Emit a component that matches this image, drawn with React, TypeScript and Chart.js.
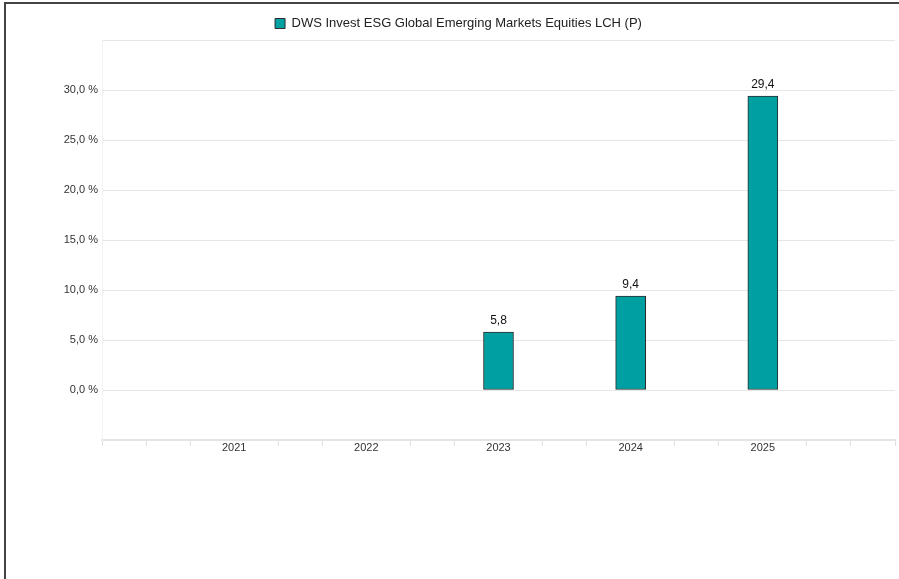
import React, { useEffect, useRef } from "react";
import { Chart, registerables } from "chart.js";

Chart.register(...registerables);

const seriesName = "DWS Invest ESG Global Emerging Markets Equities LCH (P)";
const years = [2021, 2022, 2023, 2024, 2025];
const values: (number | null)[] = [null, null, 5.8, 9.4, 29.4];
const yTickValues = [0, 5, 10, 15, 20, 25, 30];
const xRange = [2020, 2026];
const yRange = [-5, 35];

const FONT = "'Liberation Sans', Arial, Helvetica, sans-serif";
const TEAL = "#009fa1";

const fmt = (v: number) => v.toFixed(1).replace(".", ",");

export default function App() {
  const ref = useRef<HTMLCanvasElement | null>(null);

  useEffect(() => {
    if (!ref.current) return;
    const legendFix = {
      id: "legendFix",
      beforeInit(chart: any) {
        const lg = chart.legend;
        if (!lg) return;
        const orig = lg.fit.bind(lg);
        lg.fit = function () {
          orig();
          this.height = 33;
        };
      },
      afterLayout(chart: any) {
        const lg = chart.legend;
        if (!lg) return;
        lg.left += 8;
        lg.right += 8;
      },
    };
    const dataLabels = {
      id: "dataLabels",
      afterDatasetsDraw(chart: any) {
        const ctx = chart.ctx;
        const meta = chart.getDatasetMeta(0);
        ctx.save();
        ctx.font = `12px ${FONT}`;
        ctx.fillStyle = "#111";
        ctx.textAlign = "center";
        ctx.textBaseline = "bottom";
        meta.data.forEach((el: any, i: number) => {
          const v = values[i];
          if (v === null || v === undefined) return;
          ctx.fillText(fmt(v), el.x, el.y - 5);
        });
        ctx.restore();
      },
    };
    const isLabeled = (v: number) =>
      years.some((y) => Math.abs(y - v) < 1e-6);

    const chart = new Chart(ref.current, {
      type: "bar",
      data: {
        datasets: [
          {
            label: seriesName,
            data: years.map((y, i) => ({ x: y, y: values[i] })) as any,
            backgroundColor: TEAL,
            borderColor: "#2b2b2b",
            borderWidth: 1,
            borderSkipped: false,
            barThickness: 30,
          },
        ],
      },
      options: {
        responsive: false,
        animation: false,
        layout: { padding: { top: 3, left: 0, right: 4, bottom: 109 } },
        plugins: {
          legend: {
            display: true,
            position: "top",
            labels: {
              boxWidth: 10,
              boxHeight: 10,
              color: "#222",
              font: { family: FONT, size: 13 },
              padding: 10,
            },
          },
          tooltip: { enabled: false },
        },
        scales: {
          x: {
            type: "linear",
            min: xRange[0],
            max: xRange[1],
            offset: false,
            afterBuildTicks(scale: any) {
              const t: any[] = [];
              for (let i = 0; i <= (xRange[1] - xRange[0]) * 3; i++) {
                t.push({ value: xRange[0] + i / 3 });
              }
              scale.ticks = t;
            },
            afterFit(scale: any) {
              scale.height = 30;
            },
            ticks: {
              autoSkip: false,
              maxRotation: 0,
              padding: -5,
              color: "#333",
              font: { family: FONT, size: 11 },
              callback: (v: any) => {
                const n = Number(v);
                return isLabeled(n) ? String(Math.round(n)) : "";
              },
            },
            grid: {
              offset: false,
              drawOnChartArea: false,
              drawTicks: true,
              tickLength: 6,
              tickColor: (c: any) =>
                c.tick && isLabeled(c.tick.value) ? "rgba(0,0,0,0)" : "#e2e2e2",
            },
            border: { display: true, color: "#e4e4e4", width: 2 },
          },
          y: {
            min: yRange[0],
            max: yRange[1],
            afterBuildTicks(scale: any) {
              const t: any[] = [];
              for (let v = yRange[0]; v <= yRange[1]; v += 5) t.push({ value: v });
              scale.ticks = t;
            },
            afterFit(scale: any) {
              scale.width = 96;
            },
            ticks: {
              padding: 4,
              color: "#333",
              font: { family: FONT, size: 11 },
              callback: (v: any) => {
                const n = Number(v);
                return yTickValues.includes(n) ? fmt(n) + " %" : "";
              },
            },
            grid: {
              drawTicks: false,
              color: "#e6e6e6",
              lineWidth: 1,
            },
            border: { display: true, color: "#f3f3f3", width: 1 },
          },
        },
      },
      plugins: [legendFix, dataLabels],
    });
    return () => chart.destroy();
  }, []);

  return (
    <div
      style={{
        position: "fixed",
        left: 0,
        top: 0,
        width: 899,
        height: 579,
        background: "#fff",
        overflow: "hidden",
      }}
    >
      <div
        style={{
          position: "absolute",
          left: 4,
          top: 2,
          width: 1000,
          height: 700,
          borderLeft: "2px solid #444",
          borderTop: "2px solid #444",
        }}
      />
      <canvas
        ref={ref}
        width={893}
        height={575}
        style={{ position: "absolute", left: 6, top: 4, width: 893, height: 575 }}
      />
    </div>
  );
}
